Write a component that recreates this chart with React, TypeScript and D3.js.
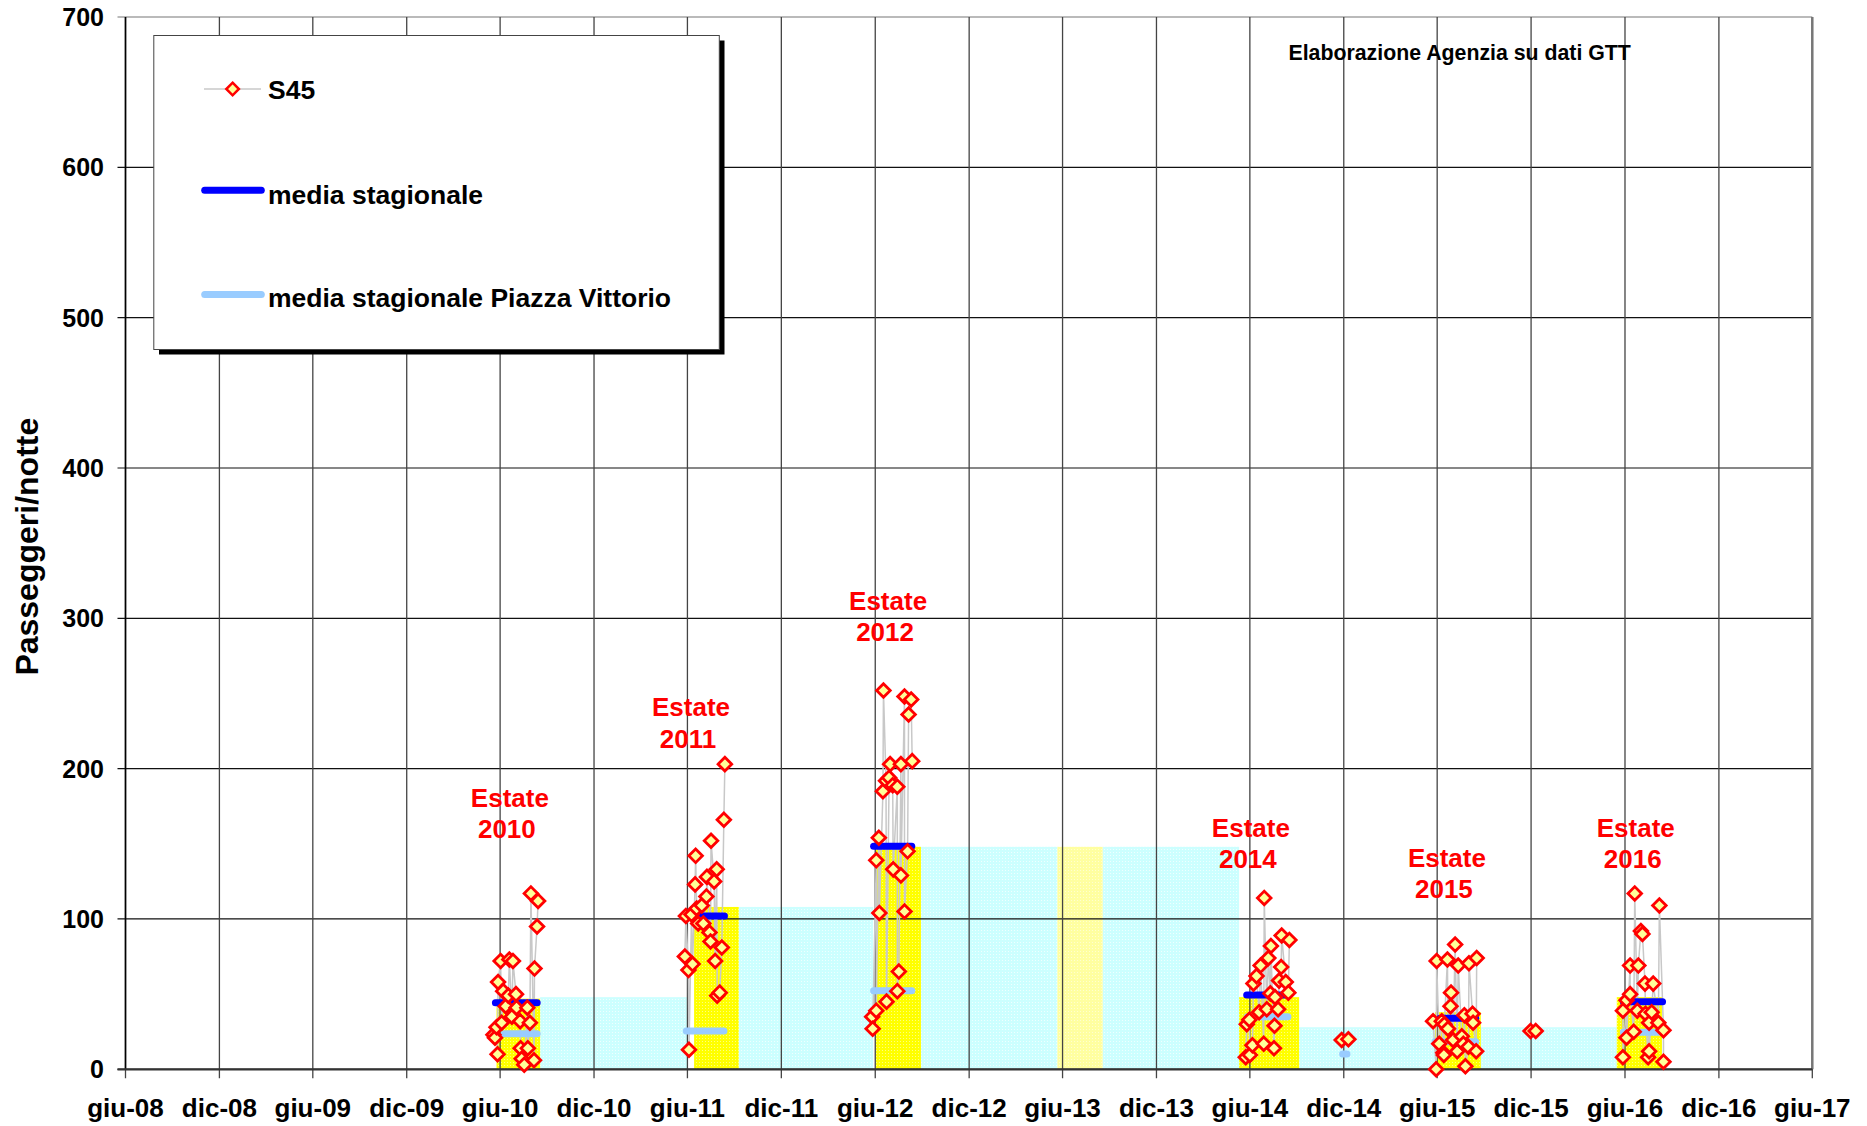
import React from 'react';
import * as d3 from 'd3';

const W = 1867;
const H = 1126;
const PLOT = { left: 125.5, right: 1812.3, top: 17, bottom: 1069.3 };
const FONT = '"Liberation Sans", Arial, Helvetica, sans-serif';

const X_START = '2008-06-01';
const X_END = '2017-06-01';
const X_TICK_LABELS = ['giu-08', 'dic-08', 'giu-09', 'dic-09', 'giu-10', 'dic-10', 'giu-11', 'dic-11', 'giu-12', 'dic-12', 'giu-13', 'dic-13', 'giu-14', 'dic-14', 'giu-15', 'dic-15', 'giu-16', 'dic-16', 'giu-17'];
const Y_TICKS = [0, 100, 200, 300, 400, 500, 600, 700];

// S45 nightly passengers: [days from 1 June of the season year, value]
const S45_2010: [number, number][] = [[-13, 23], [-10, 21], [-7, 28], [-5, 10], [-4, 58], [1, 72], [3, 31], [6, 52], [11, 42], [16, 49], [18, 73], [23, 35], [25, 72], [31, 50], [32, 41], [39, 32], [40, 14], [42, 7], [47, 3], [53, 41], [54, 14], [58, 31], [60, 117], [66, 6], [67, 67], [72, 95], [74, 112]];
const S45_2011: [number, number][] = [[-5, 75], [-3, 102], [2, 66], [3, 13], [8, 103], [10, 70], [15, 123], [16, 142], [18, 107], [21, 97], [28, 109], [31, 97], [37, 115], [38, 128], [43, 91], [45, 85], [46, 152], [52, 125], [54, 72], [57, 133], [58, 49], [63, 51], [67, 81], [71, 166], [73, 203]];
const S45_2012: [number, number][] = [[-6, 35], [-5, 27], [2, 139], [2, 39], [7, 154], [8, 104], [15, 185], [16, 252], [21, 192], [22, 45], [27, 194], [29, 203], [34, 189], [35, 133], [43, 188], [43, 52], [46, 65], [50, 203], [50, 129], [57, 248], [57, 105], [63, 145], [65, 236], [70, 246], [72, 205]];
const S45_2014: [number, number][] = [[-8, 8], [-6, 30], [-1, 33], [0, 9.5], [5, 16], [7, 57], [13, 62], [18, 38], [21, 69], [27, 17], [28, 114], [33, 40], [36, 74], [40, 50.5], [41, 82], [47, 14], [48, 29], [49, 48], [55, 40], [57, 59], [61, 68], [62, 89], [70, 58], [75, 51], [77, 86]];
const S45_DIC14: [number, number][] = [[179, 19.5], [192, 20]];
const S45_2015: [number, number][] = [[-8, 32], [-2, 0], [-1, 72], [4, 17], [9, 32], [12, 11], [13, 9.5], [14, 30], [20, 73], [21, 27], [26, 42], [27, 51], [31, 19.5], [35, 83], [39, 12], [41, 69], [48, 22], [51, 17], [53, 36], [55, 2], [61, 15], [62, 70.5], [69, 37], [70, 31], [76, 12], [77, 74]];
const S45_DIC15: [number, number][] = [[182, 25.5], [192, 25.5]];
const S45_2016: [number, number][] = [[-4, 39], [-4, 8], [3, 46], [3, 21], [10, 69], [10, 50], [17, 25], [19, 117], [24, 39], [26, 69], [31, 92], [34, 90], [39, 57], [40, 37], [45, 8], [47, 31], [47, 12], [52, 38], [55, 57], [65, 31], [67, 109], [75, 26], [75, 5]];

const S45_SEGMENTS: { year: number; pts: [number, number][] }[] = [
  { year: 2010, pts: S45_2010 },
  { year: 2011, pts: S45_2011 },
  { year: 2012, pts: S45_2012 },
  { year: 2014, pts: S45_2014 },
  { year: 2014, pts: S45_DIC14 },
  { year: 2015, pts: S45_2015 },
  { year: 2015, pts: S45_DIC15 },
  { year: 2016, pts: S45_2016 },
];

// bands: [year, start offset, end offset, value]
const BAND_SUMMER: [number, number, number, number][] = [[2010, -7, 78, 47], [2011, 13, 100, 108], [2012, 1, 89, 148], [2014, -21, 96, 48], [2015, -4, 85, 38], [2016, -16, 72, 48]];
const BAND_SUMMER_PALE: [number, number, number, number][] = [[2013, -10, 78, 148]];
// winter bands: [start year, start offset, end year, end offset, value]
const BAND_WINTER: [number, number, number, number, number][] = [[2010, 78, 2011, -1, 48], [2011, 100, 2012, -4, 108], [2012, 89, 2013, -10, 148], [2013, 78, 2014, -21, 148], [2014, 96, 2015, -4, 28], [2015, 85, 2016, -16, 28]];

// seasonal means: [year, start offset, end offset, value]
const MEDIA: [number, number, number, number][] = [[2010, -16, 79, 44.3], [2011, -7, 79, 102], [2012, -10, 78, 148.4], [2014, -13, 80, 49.4], [2015, -1, 82, 34], [2016, -10, 80, 45]];
const MEDIA_PV: [number, number, number, number][] = [[2010, 1, 79, 23.7], [2011, -9, 78, 25.5], [2012, -10, 78, 52.2], [2014, -12, 81, 35], [2014, 174, 196, 10.2], [2015, -11, 82, 18.4], [2016, -10, 72, 24.6]];

// "Estate" labels: [year, offset, value of first line center]
const ESTATE_LABELS: [number, number, number][] = [[2010, 19, 181], [2011, 7, 241], [2012, 25, 312], [2014, 2, 161], [2015, 19, 141], [2016, 21, 161]];

const DAY = 86400000;
const dateOf = (year: number, off: number) => new Date(Date.UTC(year, 5, 1) + off * DAY);

const x = d3.scaleUtc().domain([new Date(X_START + 'T00:00:00Z'), new Date(X_END + 'T00:00:00Z')]).range([PLOT.left, PLOT.right]);
const y = d3.scaleLinear().domain([0, 700]).range([PLOT.bottom, PLOT.top]);
const xTicks = d3.utcMonth.range(new Date(X_START + 'T00:00:00Z'), new Date(Date.UTC(2017, 5, 2)), 6);

const lineGen = d3.line<[number, number]>();

const diamond = (cx: number, cy: number, r = 6.8) => `M${cx},${cy - r}L${cx + r},${cy}L${cx},${cy + r}L${cx - r},${cy}Z`;

export default function App() {
  const segs = S45_SEGMENTS.map((s) =>
    s.pts
      .map((p, i) => ({ i, d: dateOf(s.year, p[0]), v: p[1] }))
      .sort((a, b) => +a.d - +b.d || a.i - b.i)
  );
  const CAP = 3.5;
  const LX = 268;
  return (
    <svg width={W} height={H} style={{ position: 'absolute', left: 0, top: 0, background: '#fff' }} fontFamily={FONT}>
      <defs>
        <pattern id="pYellow" width="3" height="3" patternUnits="userSpaceOnUse">
          <rect width="3" height="3" fill="#FFFF00" />
          <rect width="1" height="1" fill="#FFFF80" />
        </pattern>
        <pattern id="pPale" width="3" height="3" patternUnits="userSpaceOnUse">
          <rect width="3" height="3" fill="#FFFFA0" />
          <rect width="1" height="1" fill="#FFFFD0" />
        </pattern>
        <pattern id="pCyan" width="3" height="3" patternUnits="userSpaceOnUse">
          <rect width="3" height="3" fill="#CCFFFF" />
          <rect width="1" height="1" fill="#F0FFFF" />
        </pattern>
      </defs>
      <rect x={0} y={0} width={W} height={H} fill="#fff" />

      {/* bands */}
      {BAND_WINTER.map((b, i) => {
        const x0 = x(dateOf(b[0], b[1]));
        const x1 = x(dateOf(b[2], b[3]));
        return <rect key={'w' + i} x={x0} y={y(b[4])} width={x1 - x0} height={y(0) - y(b[4])} fill="url(#pCyan)" />;
      })}
      {BAND_SUMMER.map((b, i) => {
        const x0 = x(dateOf(b[0], b[1]));
        const x1 = x(dateOf(b[0], b[2]));
        return <rect key={'s' + i} x={x0} y={y(b[3])} width={x1 - x0} height={y(0) - y(b[3])} fill="url(#pYellow)" />;
      })}
      {BAND_SUMMER_PALE.map((b, i) => {
        const x0 = x(dateOf(b[0], b[1]));
        const x1 = x(dateOf(b[0], b[2]));
        return <rect key={'p' + i} x={x0} y={y(b[3])} width={x1 - x0} height={y(0) - y(b[3])} fill="url(#pPale)" />;
      })}

      {/* grid */}
      {Y_TICKS.map((t) => (
        <line key={'gy' + t} x1={PLOT.left - 8} x2={PLOT.right} y1={y(t)} y2={y(t)} stroke={t === 700 ? '#777' : '#111'} strokeWidth={1.2} />
      ))}
      {xTicks.map((d, i) => (
        <line key={'gx' + i} x1={x(d)} x2={x(d)} y1={PLOT.top} y2={PLOT.bottom + 9} stroke="#444" strokeWidth={1.3} />
      ))}
      <line x1={PLOT.left} x2={PLOT.left} y1={PLOT.top} y2={PLOT.bottom} stroke="#000" strokeWidth={1.6} />
      <line x1={PLOT.right} x2={PLOT.right} y1={PLOT.top} y2={PLOT.bottom} stroke="#777" strokeWidth={2.5} />
      <line x1={PLOT.left - 8} x2={PLOT.right} y1={PLOT.bottom} y2={PLOT.bottom} stroke="#333" strokeWidth={2.2} />

      {/* S45 connecting lines */}
      {segs.map((s, i) => (
        <path key={'l' + i} d={lineGen(s.map((p) => [x(p.d), y(p.v)]) as [number, number][]) || ''} fill="none" stroke="#C8C8C8" strokeWidth={1.5} />
      ))}

      {/* seasonal means */}
      {MEDIA_PV.map((m, i) => (
        <line key={'pv' + i} x1={x(dateOf(m[0], m[1])) + CAP} x2={x(dateOf(m[0], m[2])) - CAP} y1={y(m[3])} y2={y(m[3])} stroke="#99CCFF" strokeWidth={7} strokeLinecap="round" />
      ))}
      {MEDIA.map((m, i) => (
        <line key={'m' + i} x1={x(dateOf(m[0], m[1])) + CAP} x2={x(dateOf(m[0], m[2])) - CAP} y1={y(m[3])} y2={y(m[3])} stroke="#0000FF" strokeWidth={7} strokeLinecap="round" />
      ))}

      {/* markers */}
      {segs.map((s, i) =>
        s.map((p, j) => <path key={'d' + i + '-' + j} d={diamond(x(p.d), y(p.v))} fill="#FFFF99" stroke="#FF0000" strokeWidth={2.8} />)
      )}

      {/* axes labels */}
      {Y_TICKS.map((t) => (
        <text key={'ty' + t} x={104} y={y(t)} dy="0.36em" textAnchor="end" fontSize={25} fontWeight="bold" fill="#000">{t}</text>
      ))}
      {xTicks.map((d, i) => (
        <text key={'tx' + i} x={x(d)} y={1117} textAnchor="middle" fontSize={26} fontWeight="bold" fill="#000">{X_TICK_LABELS[i]}</text>
      ))}
      <text transform="translate(38,546.7) rotate(-90)" textAnchor="middle" fontSize={32} fontWeight="bold" fill="#000">Passeggeri/notte</text>

      {/* source note */}
      <text x={1459.7} y={59.5} textAnchor="middle" fontSize={21.3} fontWeight="bold" fill="#000">Elaborazione Agenzia su dati GTT</text>

      {/* Estate labels */}
      {ESTATE_LABELS.map((l, i) => {
        const cx = x(dateOf(l[0], l[1]));
        const cy = y(l[2]);
        return (
          <g key={'e' + i} fill="#FF0000" fontSize={26} fontWeight="bold" textAnchor="middle">
            <text x={cx} y={cy + 9.3}>Estate</text>
            <text x={cx - 3} y={cy + 40.9}>{l[0]}</text>
          </g>
        );
      })}

      {/* legend */}
      <rect x={159} y={40.5} width={565.5} height={314} fill="#000" />
      <rect x={153.8} y={35.5} width={565.5} height={314} fill="#fff" stroke="#444" strokeWidth={1} />
      <line x1={204} x2={261} y1={89} y2={89} stroke="#C8C8C8" strokeWidth={1.5} />
      <path d={diamond(232.6, 89, 6.3)} fill="#FFFF99" stroke="#FF0000" strokeWidth={2.5} />
      <text x={LX} y={98.5} fontSize={26.5} fontWeight="bold" fill="#000">S45</text>
      <line x1={204.7} x2={261.3} y1={190.3} y2={190.3} stroke="#0000FF" strokeWidth={7} strokeLinecap="round" />
      <text x={LX} y={203.5} fontSize={26.5} fontWeight="bold" fill="#000">media stagionale</text>
      <line x1={204.7} x2={261.3} y1={294.5} y2={294.5} stroke="#99CCFF" strokeWidth={7} strokeLinecap="round" />
      <text x={LX} y={307} fontSize={26.5} fontWeight="bold" fill="#000">media stagionale Piazza Vittorio</text>
    </svg>
  );
}
